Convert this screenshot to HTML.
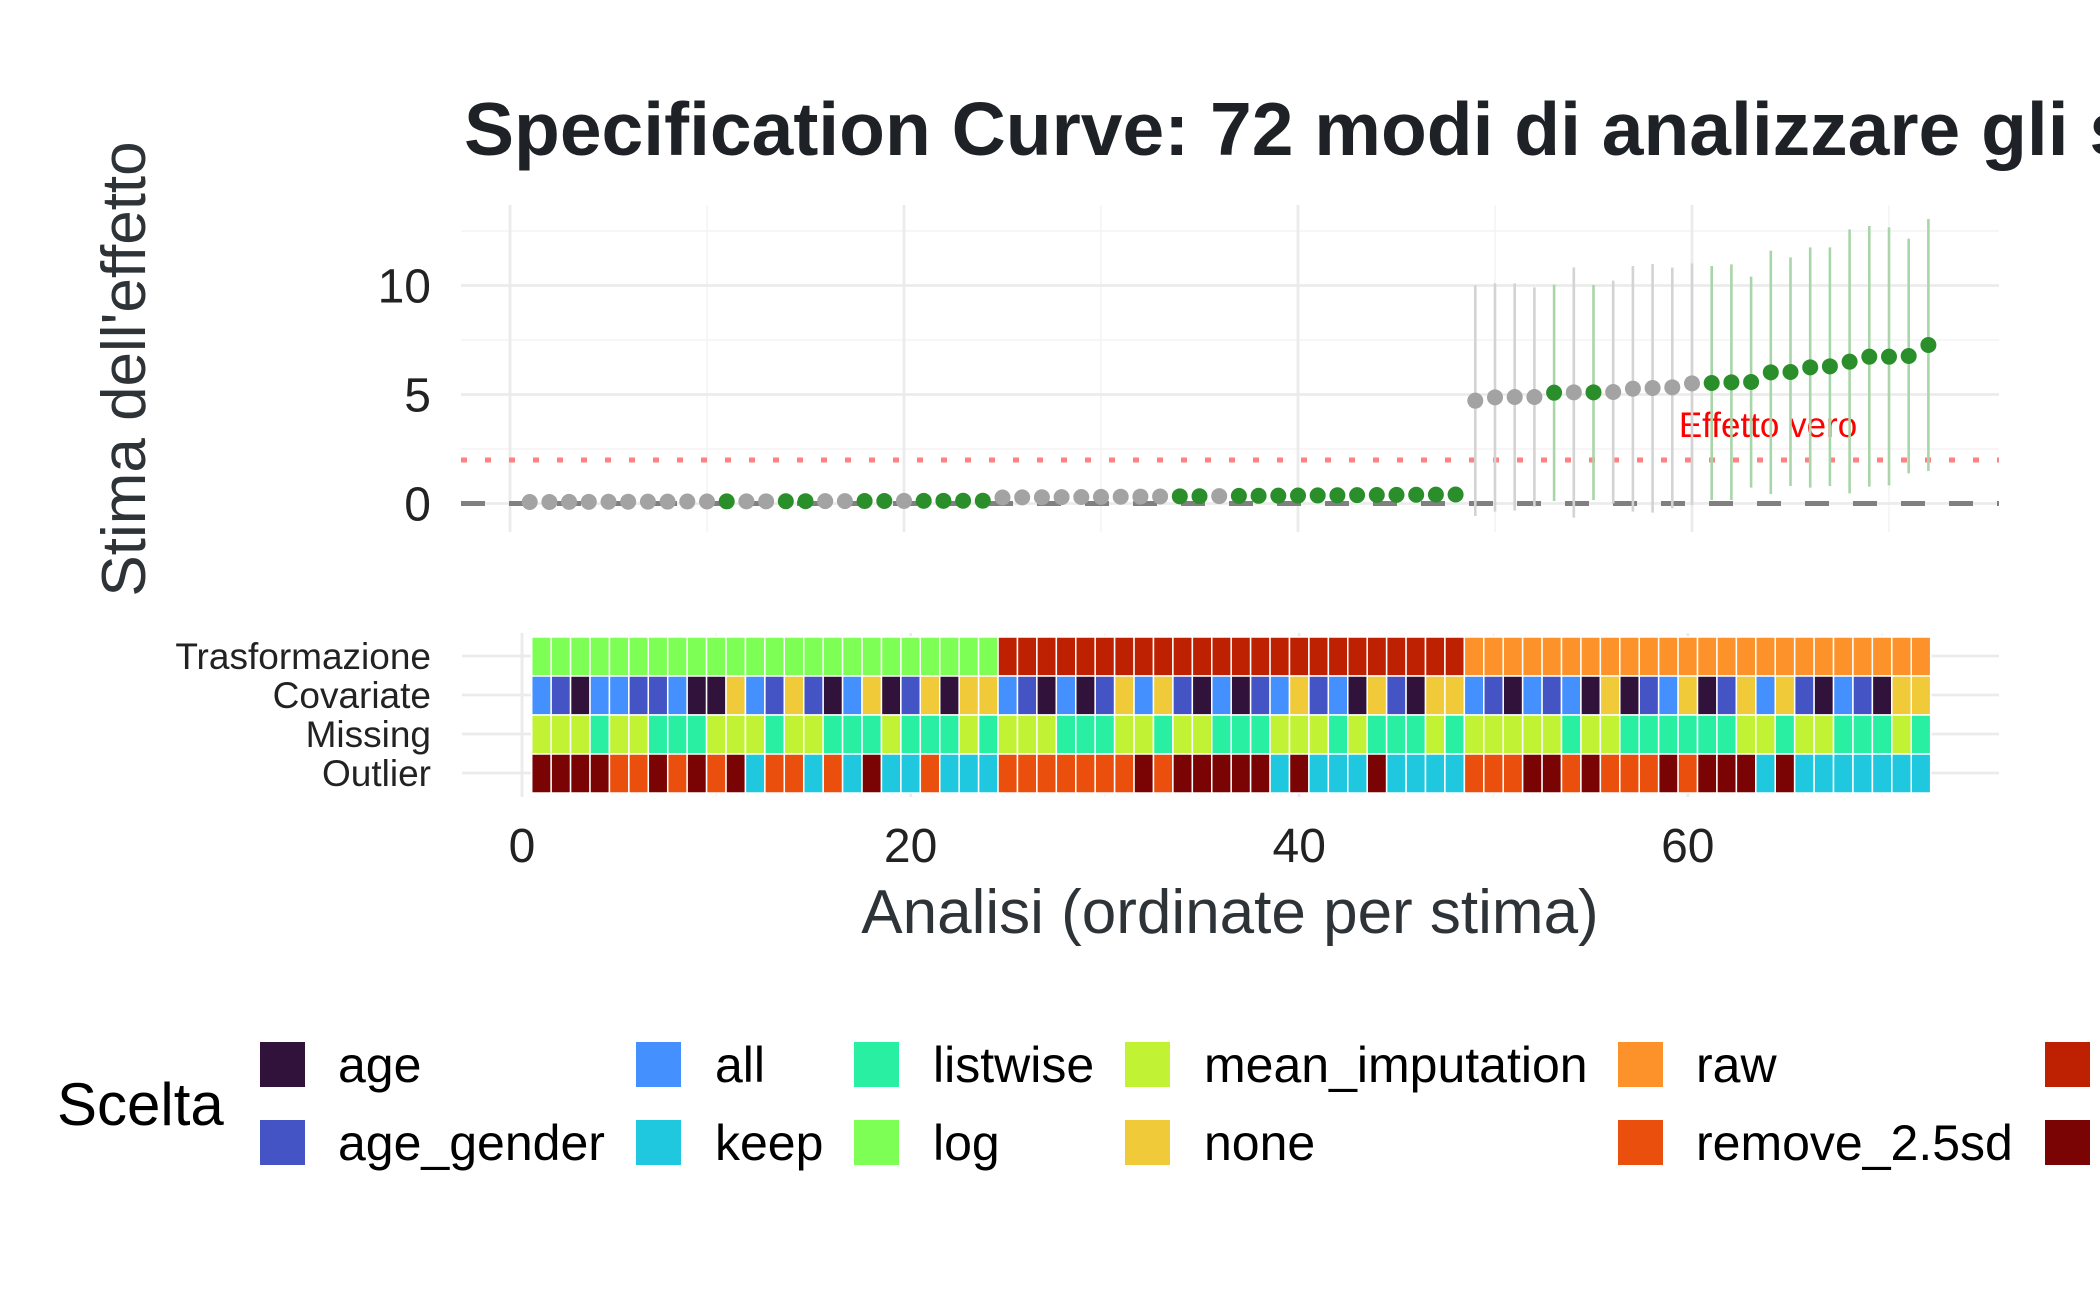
<!DOCTYPE html>
<html><head><meta charset="utf-8"><style>
html,body{margin:0;padding:0;background:#fff;}
svg{display:block;}
text{font-family:"Liberation Sans",Arial,sans-serif;}
</style></head><body>
<svg id="s" width="2100" height="1297" viewBox="0 0 2100 1297" xmlns="http://www.w3.org/2000/svg">
<rect width="2100" height="1297" fill="#fff"/>
<text x="464" y="155" font-size="75" font-weight="bold" fill="#1e2125">Specification Curve: 72 modi di analizzare gli stessi dati</text>
<text transform="translate(145,369) rotate(-90)" text-anchor="middle" font-size="62" fill="#2e3338">Stima dell'effetto</text>
<text x="1230" y="933" text-anchor="middle" font-size="62" fill="#2e3338">Analisi (ordinate per stima)</text>
<g id="g"></g>
</svg>
<script>
var NS="http://www.w3.org/2000/svg",g=document.getElementById('g');
function el(t,a,txt){var e=document.createElementNS(NS,t);for(var k in a)e.setAttribute(k,a[k]);if(txt!=null)e.textContent=txt;g.appendChild(e);return e;}
var X0=510,XS=19.7,Y0=503.5,YS=21.8;
function xp(i){return X0+XS*i;}function yp(v){return Y0-YS*v;}
[2.5,7.5,12.5].forEach(function(v){el('line',{x1:461,x2:1999,y1:yp(v),y2:yp(v),stroke:'#f3f3f3','stroke-width':1.4});});
[10,30,50,70].forEach(function(v){el('line',{x1:xp(v),x2:xp(v),y1:205,y2:532,stroke:'#f3f3f3','stroke-width':1.4});});
[0,5,10].forEach(function(v){el('line',{x1:461,x2:1999,y1:yp(v),y2:yp(v),stroke:'#ebebeb','stroke-width':2.8});});
[0,20,40,60].forEach(function(v){el('line',{x1:xp(v),x2:xp(v),y1:205,y2:532,stroke:'#ebebeb','stroke-width':2.8});});
[[0,'0'],[5,'5'],[10,'10']].forEach(function(p){el('text',{x:431,y:yp(p[0])+17,'text-anchor':'end','font-size':48,fill:'#222'},p[1]);});
el('line',{x1:461,x2:1999,y1:yp(0),y2:yp(0),stroke:'#808080','stroke-width':5,'stroke-dasharray':'24 24'});
el('line',{x1:461,x2:1999,y1:460,y2:460,stroke:'#ff8080','stroke-width':5,'stroke-dasharray':'6 18'});
el('text',{x:1768,y:437,'text-anchor':'middle','font-size':35,fill:'#ff0000'},'Effetto vero');
var tops=[316,310,310,322,314,262,315,302,258,252,263,250,258,253,290,212,232,202,202,148,138,142,176,117];
var bots=[1008,995,992,980,963,1013,960,970,995,998,985,975,960,960,923,942,918,923,918,940,920,916,880,873];
var pys=[662,652,651,651,638,637,637,636,626,624,622,610,609,607,606,577,576,562,559,545,530,530,528,495];
var green={};[11,14,15,18,19,21,22,23,24,34,35,53,55].forEach(function(i){green[i]=1;});
for(var i=37;i<=48;i++)green[i]=1;for(i=61;i<=72;i++)green[i]=1;
for(i=49;i<=72;i++){var k=i-49;el('line',{x1:xp(i),x2:xp(i),y1:180+tops[k]/3,y2:180+bots[k]/3,stroke:green[i]?'#a9d6a9':'#d3d3d3','stroke-width':2.6});}
for(i=1;i<=72;i++){var y;
 if(i<=24)y=502-(i-1)*1.3/23;else if(i<=48)y=497.5-(i-25)*3/23;else y=180+pys[i-49]/3;
 el('circle',{cx:xp(i),cy:y,r:8,fill:green[i]?'#2a8f2a':'#a3a3a3'});}
var B0=522,BS=19.43;function bx(i){return B0+BS*i;}
var rowsY=[656,695,734,773];
[10,30,50,70].forEach(function(v){el('line',{x1:bx(v),x2:bx(v),y1:633,y2:797,stroke:'#f3f3f3','stroke-width':1.4});});
[0,20,40,60].forEach(function(v){el('line',{x1:bx(v),x2:bx(v),y1:633,y2:797,stroke:'#ebebeb','stroke-width':2.8});});
rowsY.forEach(function(y){el('line',{x1:462,x2:1999,y1:y,y2:y,stroke:'#ebebeb','stroke-width':2.8});});
var labs=['Trasformazione','Covariate','Missing','Outlier'];
labs.forEach(function(l,j){el('text',{x:431,y:rowsY[j]+13,'text-anchor':'end','font-size':37,fill:'#222'},l);});
var C={D:'#30123B',G:'#4454C4',A:'#4490FE',K:'#1FC8DE',L:'#29EFA2',M:'#C1F334',N:'#F1CA3A',O:'#EA4F0D',R:'#7A0403'};
var out=["RRRR","OORO","RORK","OOKO","KRKK","OKKK",
         "OOOO","OOOR","ORRR","RRKR","KKKR","KKKK",
         "OOOR","RORO","OORO","RRRK","RKKK","KKKK"].join('');
var rows=[
 null,
 "AGDAAGGADDNAGNGDANDGNDNNAGDADGNANGDADGANGADNGDNNAGDAGADNDGANDGNANGDAGDNN",
 "MMMLMMLLLMMMLMMLLLMLLLMLMMMLLLMMLMMLLLMMMLMLLLMLMMMMMLMMLLLLLLMMLMMLLLML",
 out
];
for(i=1;i<=72;i++){
 var tc=i<=24?'#7DFF56':(i<=48?'#BE2102':'#FE922A');
 var cols=[tc,C[rows[1][i-1]],C[rows[2][i-1]],C[rows[3][i-1]]];
 for(var j=0;j<4;j++)el('rect',{x:bx(i)-BS/2,y:637+39*j,width:BS,height:39,fill:cols[j],stroke:'#fff','stroke-width':1.5});
}
[[0,'0'],[20,'20'],[40,'40'],[60,'60']].forEach(function(p){el('text',{x:bx(p[0]),y:862,'text-anchor':'middle','font-size':48,fill:'#222'},p[1]);});
el('text',{x:57,y:1125,'font-size':60,fill:'#000'},'Scelta');
var leg=[[260,338,'age','#30123B','age_gender','#4454C4'],[636,715,'all','#4490FE','keep','#1FC8DE'],[854,933,'listwise','#29EFA2','log','#7DFF56'],[1125,1204,'mean_imputation','#C1F334','none','#F1CA3A'],[1618,1696,'raw','#FE922A','remove_2.5sd','#EA4F0D'],[2045,2123,'remove_3sd','#BE2102','sqrt','#7A0403']];
leg.forEach(function(c){
 el('rect',{x:c[0],y:1042,width:45,height:45,fill:c[3]});
 el('rect',{x:c[0],y:1120,width:45,height:45,fill:c[5]});
 el('text',{x:c[1],y:1082,'font-size':50,fill:'#000'},c[2]);
 el('text',{x:c[1],y:1160,'font-size':50,fill:'#000'},c[4]);
});
</script>
</body></html>
